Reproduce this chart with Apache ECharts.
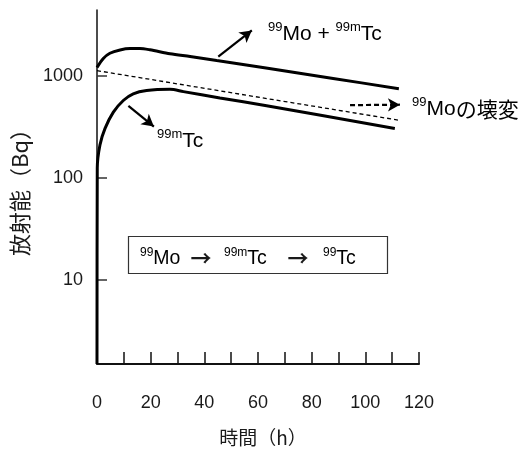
<!DOCTYPE html>
<html><head><meta charset="utf-8">
<script src="https://cdn.jsdelivr.net/npm/echarts@6/dist/echarts.min.js"></script>
<style>html,body{margin:0;padding:0;background:#fff}#c{width:530px;height:452px}</style>
</head><body><div id="c"></div>
<script>
const xTickLabels = [0, 20, 40, 60, 80, 100, 120];
const yTickValues = [10, 100, 1000];
const totalHours = [0, 2.35, 4.8, 8.6, 12.3, 16, 19.7, 27.2, 34.7, 44.6, 63, 88, 112.5];
const totalBq = [1200, 1470, 1655, 1785, 1843, 1843, 1791, 1639, 1536, 1404, 1190, 940, 746];
const tcHours = [0, 0.1, 1.1, 3.0, 6.1, 9.8, 13.5, 18.5, 27.2, 32.2, 45.8, 63.2, 111];
const tcBq = [1.517, 125, 210, 305, 440, 572, 665, 716, 735, 698, 606, 508, 305];
const moHours = [0, 50.8, 112.5];
const moBq = [1120, 676, 367];
const arrowTotal = [[45.2, 1535], [57.7, 2766]];
const arrowTc = [[11.7, 507], [21.2, 318]];
const arrowMo = [[94.3, 515], [112.9, 520]];

const FONT = "'Liberation Sans','Noto Sans CJK JP',sans-serif";
const JFONT = "'Noto Sans CJK JP','Liberation Sans',sans-serif";
const zip = (a, b) => a.map((v, i) => [v, b[i]]);
const C = '#1a1a1a';
const rich = {
  s: { fontSize: 13, fontFamily: FONT, color: C, verticalAlign: 'top', lineHeight: 13 },
  m: { fontSize: 21, fontFamily: FONT, color: C, verticalAlign: 'middle', lineHeight: 26 },
  j: { fontSize: 21, fontFamily: JFONT, color: C, verticalAlign: 'middle', lineHeight: 26 },
  bs: { fontSize: 12, fontFamily: FONT, color: C, verticalAlign: 'top', lineHeight: 12 },
  bm: { fontSize: 19.5, fontFamily: FONT, color: C, verticalAlign: 'middle', lineHeight: 24 }
};
const arrowLine = (pts, type) => ({
  silent: true, symbol: ['none', 'arrow'], symbolSize: [10, 12], animation: false,
  label: { show: false },
  lineStyle: { color: '#000', width: 2.2, type: type || 'solid' },
  emphasis: { disabled: true },
  data: [[{ coord: pts[0] }, { coord: pts[1] }]]
});
const txt = (x, y, text, align) => ({
  type: 'text', x: x, y: y, silent: true,
  style: { text: text, rich: rich, align: align || 'left', verticalAlign: 'middle',
    textAlign: align || 'left', textVerticalAlign: 'middle' }
});
const arrowTxt = (x, y) => ({
  type: 'text', x: x, y: y, silent: true,
  style: { text: '→', fill: C, font: "bold 21px 'Noto Sans CJK JP'",
    align: 'center', verticalAlign: 'middle', textAlign: 'center', textVerticalAlign: 'middle' }
});

const chart = echarts.init(document.getElementById('c'));
chart.setOption({
  animation: false,
  backgroundColor: '#fff',
  grid: { left: 97, right: 111, top: 10, bottom: 70 },
  xAxis: {
    type: 'value', min: 0, max: 120, interval: 10,
    axisLine: { lineStyle: { color: '#111', width: 2 } },
    axisTick: { inside: true, length: 12, lineStyle: { color: '#111', width: 1.5 } },
    axisLabel: {
      formatter: v => (xTickLabels.indexOf(v) >= 0 ? String(v) : ''),
      fontSize: 18, color: C, fontFamily: FONT, margin: 30
    },
    splitLine: { show: false },
    name: '時間（h）', nameLocation: 'middle', nameGap: 64,
    nameTextStyle: { fontSize: 19, color: C, fontFamily: JFONT, padding: [0, 0, 0, 10] }
  },
  yAxis: {
    type: 'log', logBase: 10, min: 1.517, max: 4385,
    axisLine: { show: true, lineStyle: { color: '#111', width: 1.5 } },
    axisTick: { show: true, inside: true, length: 10, customValues: yTickValues, lineStyle: { color: '#333', width: 1.5 } },
    axisLabel: { customValues: yTickValues, formatter: v => String(Math.round(v)),
      fontSize: 18, color: C, fontFamily: FONT, margin: 14 },
    splitLine: { show: false },
    name: '放射能（Bq）', nameLocation: 'middle', nameGap: 66,
    nameTextStyle: { fontSize: 22, color: C, fontFamily: JFONT }
  },
  series: [
    { type: 'line', data: zip(totalHours, totalBq), showSymbol: false, symbol: 'none',
      smooth: 0.3, lineStyle: { color: '#000', width: 3 },
      markLine: arrowLine(arrowTotal) },
    { type: 'line', data: zip(tcHours, tcBq), showSymbol: false, symbol: 'none',
      smooth: 0.3, lineStyle: { color: '#000', width: 3 },
      markLine: arrowLine(arrowTc) },
    { type: 'line', data: zip(moHours, moBq), showSymbol: false, symbol: 'none',
      lineStyle: { color: '#000', width: 1.3, type: [4, 3] },
      markLine: arrowLine(arrowMo, [5, 3]) }
  ],
  graphic: [
    { type: 'rect', silent: true, shape: { x: 128.5, y: 236.5, width: 259, height: 37 },
      style: { fill: 'none', stroke: '#333', lineWidth: 1.2 } },
    txt(140, 258.5, '{bs|99}{bm|Mo}'),
    arrowTxt(201, 258),
    txt(224, 258.5, '{bs|99m}{bm|Tc}'),
    arrowTxt(298, 258),
    txt(323, 258.5, '{bs|99}{bm|Tc}'),
    txt(268, 34, '{s|99}{m|Mo + }{s|99m}{m|Tc}'),
    txt(157, 141, '{s|99m}{m|Tc}'),
    txt(412, 109, '{s|99}{m|Mo}{j|の壊変}')
  ]
});
</script></body></html>
